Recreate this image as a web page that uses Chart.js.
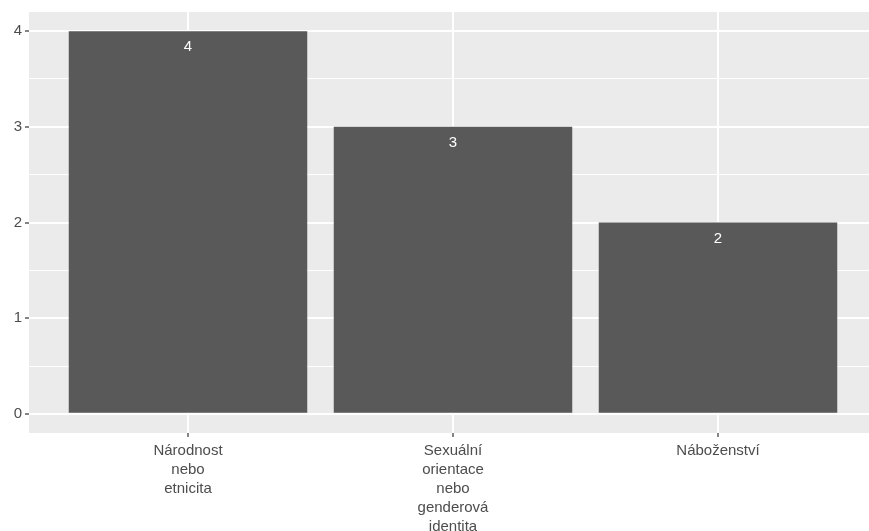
<!DOCTYPE html>
<html>
<head>
<meta charset="utf-8">
<script src="https://cdn.jsdelivr.net/npm/chart.js@4"></script>
<style>
  html, body { margin: 0; padding: 0; background: #fff; overflow: hidden; }
  #wrap { position: relative; width: 880px; height: 531px; }
</style>
</head>
<body>
<div id="wrap"><canvas id="chart" width="880" height="531"></canvas></div>
<script>
// data
const categories = [
    ['Národnost', 'nebo', 'etnicita'],
    ['Sexuální', 'orientace', 'nebo', 'genderová', 'identita'],
    ['Náboženství']
];
const counts = [4, 3, 2];
const yTicks = [0, 1, 2, 3, 4];
const yMinorTicks = [0.5, 1.5, 2.5, 3.5];

const FONT = '"Liberation Sans", Arial, sans-serif';

// pozadí panelu (ggplot šedá)
const panelBg = {
    id: 'panelBg',
    beforeDraw(chart) {
        const { ctx, chartArea: a } = chart;
        ctx.save();
        ctx.fillStyle = '#EBEBEB';
        ctx.fillRect(a.left, a.top, a.right - a.left, a.bottom - a.top);
        ctx.restore();
    }
};

// popisky hodnot uvnitř sloupců
const barLabels = {
    id: 'barLabels',
    afterDatasetsDraw(chart) {
        const { ctx } = chart;
        const meta = chart.getDatasetMeta(0);
        ctx.save();
        ctx.fillStyle = '#ffffff';
        ctx.font = '15px ' + FONT;
        ctx.textAlign = 'center';
        ctx.textBaseline = 'middle';
        meta.data.forEach((bar, i) => {
            ctx.fillText(String(counts[i]), bar.x, bar.y + 16);
        });
        ctx.restore();
    }
};

const ctx = document.getElementById('chart').getContext('2d');
new Chart(ctx, {
    type: 'bar',
    data: {
        datasets: [{
            data: counts.map((v, i) => ({ x: i + 1, y: v })),
            backgroundColor: '#595959',
            borderWidth: 0,
            barPercentage: 0.9,
            categoryPercentage: 1.0
        }]
    },
    options: {
        responsive: false,
        animation: false,
        layout: { padding: { top: 12, right: 3, left: 0, bottom: 0 } },
        plugins: {
            legend: { display: false },
            tooltip: { enabled: false }
        },
        scales: {
            x: {
                type: 'linear',
                min: 0.4,
                max: 3.6,
                offset: false,
                afterBuildTicks: (scale) => {
                    scale.ticks = categories.map((c, i) => ({ value: i + 1 }));
                },
                afterFit: (scale) => { scale.height = 98; },
                border: { display: false },
                grid: {
                    offset: false,
                    color: '#ffffff',
                    lineWidth: 2,
                    tickColor: '#333333',
                    tickLength: 4,
                    tickWidth: 1.2
                },
                ticks: {
                    autoSkip: false,
                    maxRotation: 0,
                    padding: 4,
                    color: '#4D4D4D',
                    font: { family: FONT, size: 15, lineHeight: 1.27 },
                    callback: (value) => categories[Math.round(value) - 1]
                }
            },
            y: {
                min: -0.2,
                max: 4.2,
                afterBuildTicks: (scale) => {
                    scale.ticks = yTicks.concat(yMinorTicks)
                        .sort((a, b) => a - b)
                        .map(v => ({ value: v }));
                },
                afterFit: (scale) => { scale.width = 29; },
                border: { display: false },
                grid: {
                    color: '#ffffff',
                    lineWidth: (c) => Number.isInteger(c.tick.value) ? 2 : 1,
                    tickColor: (c) => Number.isInteger(c.tick.value) ? '#333333' : 'rgba(0,0,0,0)',
                    tickLength: 4,
                    tickWidth: 1.2
                },
                ticks: {
                    padding: 3,
                    color: '#4D4D4D',
                    font: { family: FONT, size: 15 },
                    callback: (value) => Number.isInteger(value) ? String(value) : ''
                }
            }
        }
    },
    plugins: [panelBg, barLabels]
});
</script>
</body>
</html>
